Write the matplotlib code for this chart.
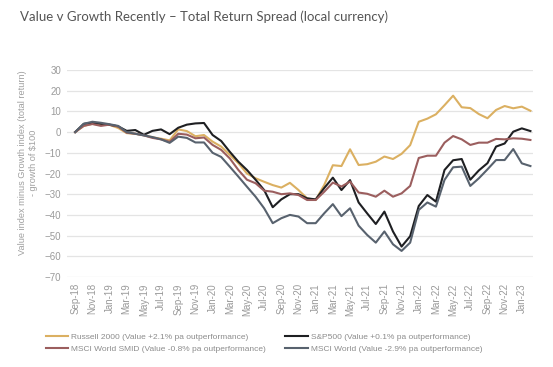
import numpy as np
import matplotlib
matplotlib.use("Agg")
import matplotlib.pyplot as plt

# monthly, Sep-18 .. Feb-23
months = ["Sep-18", "Oct-18", "Nov-18", "Dec-18", "Jan-19", "Feb-19", "Mar-19", "Apr-19",
          "May-19", "Jun-19", "Jul-19", "Aug-19", "Sep-19", "Oct-19", "Nov-19", "Dec-19",
          "Jan-20", "Feb-20", "Mar-20", "Apr-20", "May-20", "Jun-20", "Jul-20", "Aug-20",
          "Sep-20", "Oct-20", "Nov-20", "Dec-20", "Jan-21", "Feb-21", "Mar-21", "Apr-21",
          "May-21", "Jun-21", "Jul-21", "Aug-21", "Sep-21", "Oct-21", "Nov-21", "Dec-21",
          "Jan-22", "Feb-22", "Mar-22", "Apr-22", "May-22", "Jun-22", "Jul-22", "Aug-22",
          "Sep-22", "Oct-22", "Nov-22", "Dec-22", "Jan-23", "Feb-23"]

russell2000 = [0, 3, 4, 3.5, 3.5, 2, -0.5, -0.8, -1.5, -2.5, -3.2, -4, 1.3, 0.5, -2, -1.4,
               -4.6, -7, -11, -15, -20, -22.3, -24, -25.6, -26.8, -24.5, -28, -32, -32.8, -25.5,
               -16, -16.4, -8.3, -15.9, -15.5, -14.3, -11.8, -13, -10.5, -6.3,
               5, 6.5, 8.6, 13, 17.6, 12, 11.6, 8.7, 6.7, 10.7, 12.6, 11.5, 12.3, 10.3]

sp500 = [0, 4, 4.5, 4, 3.5, 2.8, 0.6, 1, -1.3, 0.6, 1.3, -1, 2.1, 3.6, 4.2, 4.4,
         -1.4, -4.3, -9.5, -14.3, -18.3, -23, -28, -36.3, -32.5, -30, -30, -32, -32.5, -27,
         -22, -28, -23.2, -34, -39.3, -44.4, -38.4, -48, -55.3, -50.3,
         -35.7, -30.4, -33.6, -18.3, -13.6, -13, -23, -18.5, -15, -7, -5.5, 0.2, 1.8, 0.5]

msci_smid = [0, 3, 3.9, 3, 3.6, 2.7, -0.3, -0.8, -1.6, -2.8, -3.5, -4.7, -0.8, -1.2, -3, -2.6,
             -6.2, -8.6, -12.7, -18.3, -23, -24.7, -28.3, -28.8, -30, -29.6, -30.4, -32.8, -32.8, -28.8,
             -24.4, -26.3, -23.9, -29.2, -29.8, -31.2, -28.3, -31.2, -29.6, -26,
             -12.5, -11.4, -11.4, -5.1, -1.9, -3.5, -6.2, -5.1, -5.1, -3.3, -3.5, -3, -3.2, -3.8]

msci_world = [0, 4, 5, 4.5, 3.8, 3, 0, -0.8, -1.6, -2.4, -3.5, -5.2, -2.2, -2.8, -5, -5,
              -10, -12, -16.7, -21.5, -26.4, -31.2, -36.8, -44, -41.6, -40, -40.8, -44, -44, -39.2,
              -34.8, -40.6, -36.8, -45.2, -49.7, -53.4, -48, -54.2, -57.4, -53.4,
              -37.6, -34, -36, -23.1, -17, -16.7, -26, -22.3, -18, -13.5, -13.5, -8.2, -15.1, -16.4]

labels = ["Russell 2000 (Value +2.1% pa outperformance)",
          "S&P500 (Value +0.1% pa outperformance)",
          "MSCI World SMID (Value -0.8% pa outperformance)",
          "MSCI World (Value -2.9% pa outperformance)"]
colors = ["#DBB062", "#1E1F22", "#9B5E5E", "#58626E"]

plt.rcParams["font.family"] = ["Liberation Sans", "DejaVu Sans"]

fig = plt.figure(figsize=(5.53, 3.67), dpi=100)
ax = fig.add_axes([67 / 553, 1 - 277 / 367, (533 - 67) / 553, (277 - 70) / 367])

x = np.arange(len(months))
for series, lab, col in zip([russell2000, sp500, msci_smid, msci_world], labels, colors):
    ax.plot(x, series, color=col, lw=1.5, label=lab)

ax.set_ylim(-70, 30)
ax.set_yticks(range(-70, 31, 10))
ax.set_xlim(-0.95, 53.3)
ax.set_xticks(x[::2])
ax.set_xticklabels(months[::2], rotation=90)
ax.grid(axis="y", color="#e4e4e4", lw=0.9)
ax.set_axisbelow(True)
for s in ax.spines.values():
    s.set_visible(False)
ax.tick_params(length=0, labelsize=7, labelcolor="#9a9a9a")
ax.tick_params(axis="y", pad=4)
ax.tick_params(axis="x", pad=4.5)

fig.text(28 / 553, 1 - 163 / 367,
         "Value index minus Growth index (total return)\n- growth of $100",
         rotation=90, ha="center", va="center", multialignment="center",
         fontsize=6.6, color="#a0a0a0", linespacing=1.15)

fig.text(20 / 553, 1 - 17 / 367,
         "Value v Growth Recently \u2013 Total Return Spread (local currency)",
         fontsize=9.5, color="#555555", va="center", family=["Lato", "DejaVu Sans"])

h, l = ax.get_legend_handles_labels()
order = [0, 2, 1, 3]
fig.legend([h[i] for i in order], [l[i] for i in order], ncol=2, frameon=False,
           loc="upper left", bbox_to_anchor=(38 / 553, 1 - 326 / 367),
           fontsize=6, labelcolor="#8c8c8c", handlelength=2.7, handletextpad=0.4,
           columnspacing=2.3, labelspacing=0.45)

plt.savefig("out.png", dpi=100)
